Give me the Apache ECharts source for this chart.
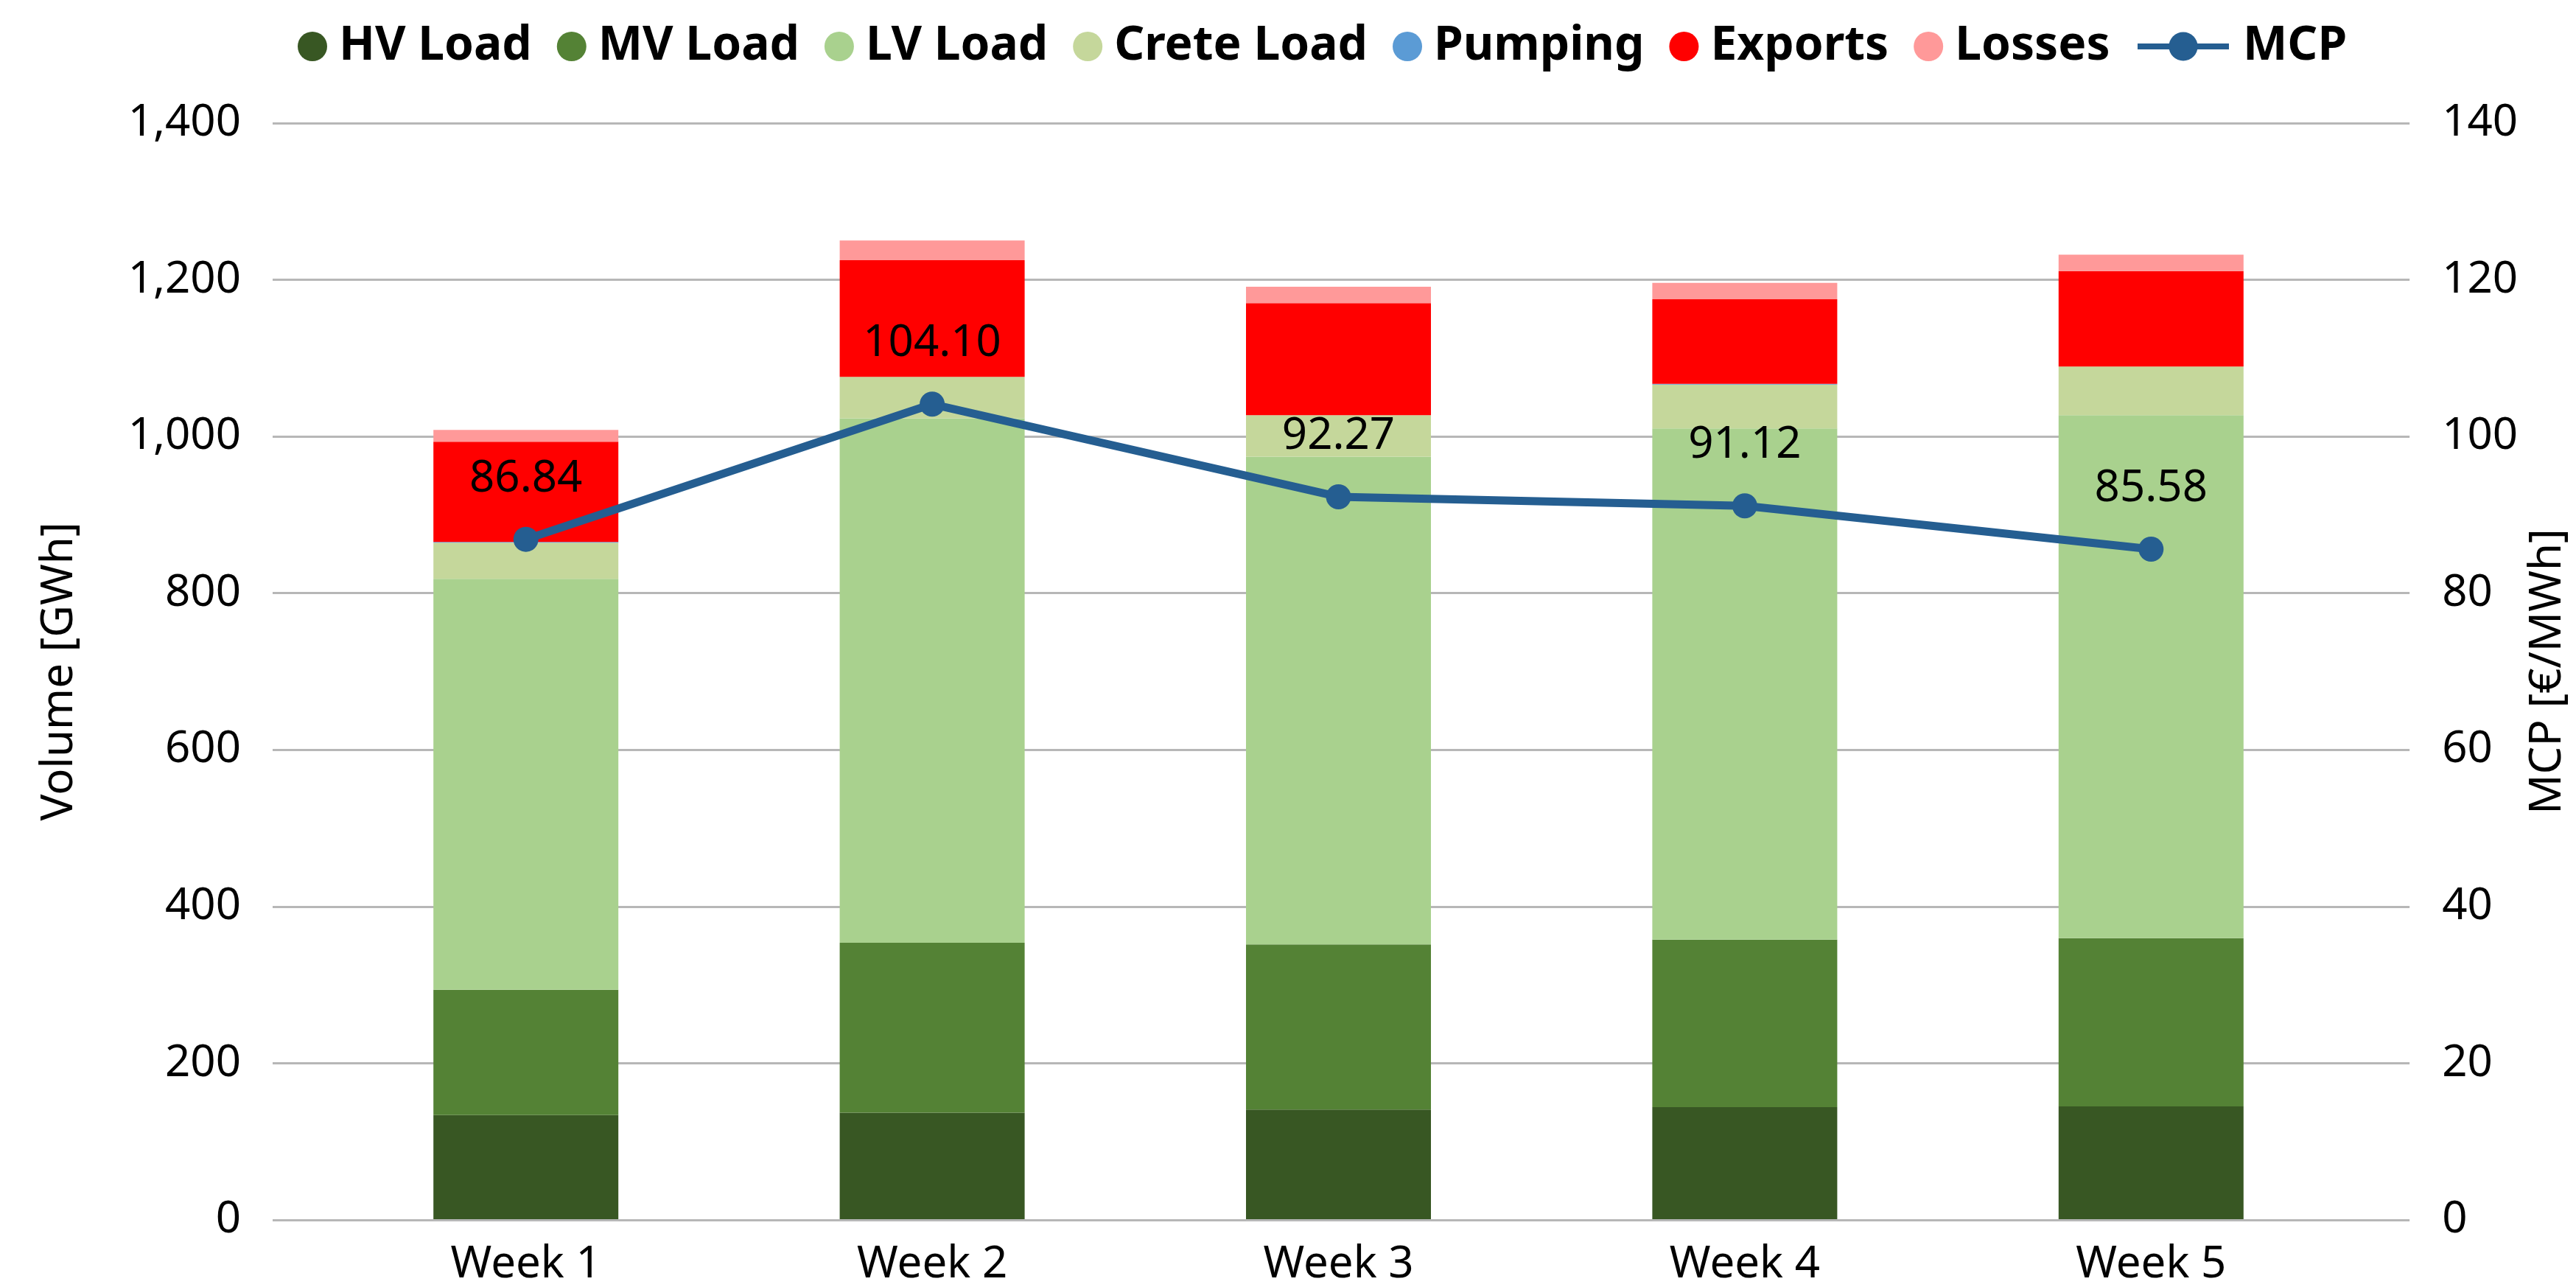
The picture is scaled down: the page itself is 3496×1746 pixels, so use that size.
<!DOCTYPE html>
<html>
<head>
<meta charset="utf-8">
<script src="https://cdn.jsdelivr.net/npm/echarts@6/dist/echarts.min.js"></script>
<style>
html,body{margin:0;padding:0;background:#fff;}
#chart{width:3496px;height:1746px;}
</style>
</head>
<body>
<div id="chart"></div>
<script>
const categories = ['Week 1', 'Week 2', 'Week 3', 'Week 4', 'Week 5'];
const hvLoad = [133, 136, 140, 143, 144];
const mvLoad = [160, 217, 211, 214, 215];
const lvLoad = [525, 670, 623, 653, 668];
const creteLoad = [46, 53, 53, 56, 62];
const pumping = [1, 0, 0, 1, 0];
const exportsVol = [128, 149, 143, 108, 122];
const losses = [15, 25, 21, 21, 21];
const mcp = [86.84, 104.10, 92.27, 91.12, 85.58];

const FONT = 'Noto Sans';
const barSeriesDefs = [
  ['HV Load', hvLoad, '#385723'],
  ['MV Load', mvLoad, '#548235'],
  ['LV Load', lvLoad, '#A9D18E'],
  ['Crete Load', creteLoad, '#C5D79B'],
  ['Pumping', pumping, '#5B9BD5'],
  ['Exports', exportsVol, '#FF0000'],
  ['Losses', losses, '#FF9999']
];

const series = barSeriesDefs.map(([name, data, color]) => ({
  name: name,
  type: 'bar',
  stack: 'vol',
  xAxisIndex: 1,
  yAxisIndex: 2,
  barWidth: 251,
  itemStyle: { color: color },
  data: data
}));

series.push({
  name: 'MCP',
  type: 'line',
  xAxisIndex: 1,
  yAxisIndex: 3,
  symbol: 'circle',
  symbolSize: 34,
  lineStyle: { width: 11, color: '#255E91' },
  itemStyle: { color: '#255E91' },
  label: {
    show: true,
    position: 'top',
    distance: 35,
    fontFamily: FONT,
    fontSize: 60,
    color: '#000',
    formatter: p => p.value.toFixed(2)
  },
  z: 5,
  data: mcp
});

const chart = echarts.init(document.getElementById('chart'), null, { renderer: 'canvas' });
chart.setOption({
  animation: false,
  backgroundColor: '#fff',
  textStyle: { fontFamily: FONT },
  legend: [
    {
      left: 399,
      top: 26,
      itemWidth: 40,
      itemHeight: 40,
      itemGap: 34,
      icon: 'circle',
      textStyle: { fontFamily: FONT, fontSize: 64, fontWeight: 'bold', color: '#000', padding: [0, 0, 0, 11] },
      data: barSeriesDefs.map(d => d[0])
    },
    {
      left: 2892,
      top: 26,
      itemWidth: 124,
      itemHeight: 49,
      lineStyle: { width: 8 },
      textStyle: { fontFamily: FONT, fontSize: 64, fontWeight: 'bold', color: '#000', padding: [0, 0, 0, 14] },
      data: ['MCP']
    }
  ],
  grid: [
    { left: 370, right: 220, top: 167, bottom: 91, containLabel: false },
    { left: 438, right: 301, top: 167, bottom: 91, containLabel: false }
  ],
  xAxis: [
    { type: 'value', gridIndex: 0, min: 0, max: 1, show: false },
    {
      type: 'category',
      gridIndex: 1,
      data: categories,
      axisLine: { show: false },
      axisTick: { show: false },
      axisLabel: { fontFamily: FONT, fontSize: 60, color: '#000', margin: 32 }
    }
  ],
  yAxis: [
    {
      type: 'value',
      gridIndex: 0,
      position: 'left',
      min: 0, max: 1400, interval: 200,
      name: 'Volume [GWh]',
      nameLocation: 'middle',
      nameGap: 259,
      nameTextStyle: { fontFamily: FONT, fontSize: 60, color: '#000' },
      axisLine: { show: false },
      axisTick: { show: false },
      axisLabel: {
        fontFamily: FONT, fontSize: 60, color: '#000', margin: 43,
        formatter: v => v.toLocaleString('en-US')
      },
      splitLine: { show: true, lineStyle: { color: '#B7B7B7', width: 3 } }
    },
    {
      type: 'value',
      gridIndex: 0,
      position: 'right',
      min: 0, max: 140, interval: 20,
      name: 'MCP [€/MWh]',
      nameLocation: 'middle',
      nameGap: 113,
      nameRotate: 90,
      nameTextStyle: { fontFamily: FONT, fontSize: 60, color: '#000' },
      axisLine: { show: false },
      axisTick: { show: false },
      axisLabel: { fontFamily: FONT, fontSize: 60, color: '#000', margin: 44 },
      splitLine: { show: false }
    },
    { type: 'value', gridIndex: 1, min: 0, max: 1400, interval: 200, show: false, splitLine: { show: false } },
    { type: 'value', gridIndex: 1, min: 0, max: 140, interval: 20, show: false, splitLine: { show: false } }
  ],
  series: series
});
</script>
</body>
</html>
